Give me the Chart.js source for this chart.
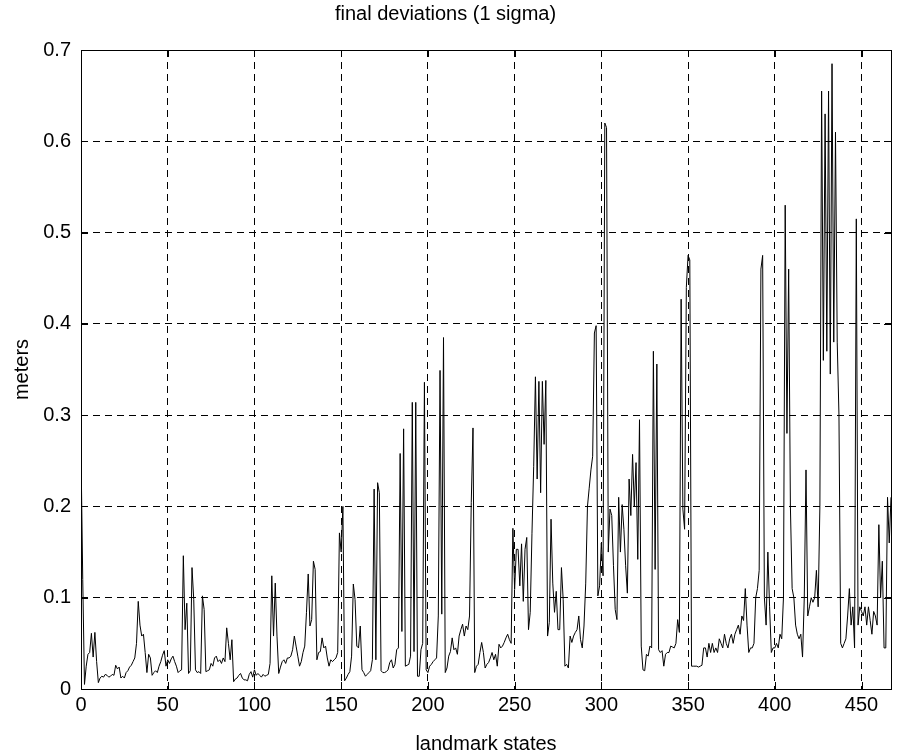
<!DOCTYPE html>
<html lang="en">
<head>
<meta charset="UTF-8">
<title>final deviations (1 sigma)</title>
<script src="https://cdn.jsdelivr.net/npm/chart.js"></script>
<style>
  html, body { margin: 0; padding: 0; background: #fff; }
  canvas { display: block; }
</style>
</head>
<body>
<canvas id="deviaciones" width="897" height="756"></canvas>
<script>
// landmark state standard deviations, 100 states per block
const dev000 = [0.26, 0.12, 0.005, 0.025, 0.038, 0.04, 0.061, 0.035, 0.062, 0.03,
  0.007, 0.012, 0.014, 0.013, 0.016, 0.015, 0.013, 0.014, 0.016, 0.015,
  0.026, 0.022, 0.024, 0.012, 0.014, 0.012, 0.018, 0.02, 0.024, 0.026,
  0.03, 0.034, 0.05, 0.096, 0.07, 0.058, 0.06, 0.04, 0.018, 0.038,
  0.034, 0.015, 0.018, 0.02, 0.018, 0.025, 0.03, 0.037, 0.042, 0.025,
  0.032, 0.028, 0.033, 0.036, 0.03, 0.025, 0.018, 0.02, 0.021, 0.146,
  0.065, 0.094, 0.017, 0.02, 0.133, 0.098, 0.021, 0.018, 0.019, 0.017,
  0.102, 0.087, 0.019, 0.02, 0.021, 0.028, 0.025, 0.034, 0.036, 0.03,
  0.032, 0.028, 0.034, 0.03, 0.067, 0.05, 0.032, 0.054, 0.008, 0.011,
  0.012, 0.015, 0.017, 0.012, 0.01, 0.01, 0.009, 0.016, 0.019, 0.013];
const dev100 = [0.021, 0.015, 0.017, 0.015, 0.013, 0.016, 0.014, 0.015, 0.016, 0.028,
  0.124, 0.058, 0.116, 0.058, 0.017, 0.024, 0.03, 0.032, 0.028, 0.034,
  0.034, 0.036, 0.043, 0.058, 0.047, 0.036, 0.025, 0.03, 0.04, 0.047,
  0.084, 0.126, 0.069, 0.076, 0.14, 0.131, 0.032, 0.04, 0.041, 0.056,
  0.045, 0.047, 0.034, 0.025, 0.032, 0.03, 0.032, 0.034, 0.04, 0.171,
  0.15, 0.2, 0.009, 0.012, 0.016, 0.019, 0.036, 0.115, 0.098, 0.047,
  0.045, 0.069, 0.021, 0.018, 0.014, 0.016, 0.018, 0.02, 0.032, 0.219,
  0.032, 0.226, 0.215, 0.02, 0.018, 0.018, 0.019, 0.021, 0.029, 0.032,
  0.023, 0.027, 0.043, 0.045, 0.258, 0.063, 0.285, 0.025, 0.026, 0.027,
  0.036, 0.314, 0.041, 0.314, 0.014, 0.014, 0.043, 0.05, 0.336, 0.021];
const dev200 = [0.018, 0.025, 0.027, 0.03, 0.032, 0.034, 0.08, 0.349, 0.082, 0.385,
  0.018, 0.023, 0.036, 0.041, 0.056, 0.043, 0.045, 0.038, 0.058, 0.065,
  0.071, 0.058, 0.069, 0.065, 0.08, 0.204, 0.286, 0.018, 0.025, 0.027,
  0.04, 0.051, 0.04, 0.023, 0.027, 0.029, 0.034, 0.04, 0.032, 0.038,
  0.025, 0.049, 0.045, 0.047, 0.051, 0.056, 0.06, 0.054, 0.05, 0.176,
  0.109, 0.153, 0.153, 0.113, 0.159, 0.096, 0.153, 0.166, 0.065, 0.084,
  0.17, 0.244, 0.342, 0.23, 0.337, 0.215, 0.337, 0.268, 0.338, 0.058,
  0.073, 0.186, 0.116, 0.084, 0.107, 0.065, 0.065, 0.133, 0.098, 0.025,
  0.027, 0.023, 0.058, 0.051, 0.058, 0.062, 0.065, 0.08, 0.054, 0.045,
  0.069, 0.116, 0.2, 0.22, 0.24, 0.255, 0.39, 0.398, 0.102, 0.113];
const dev300 = [0.16, 0.124, 0.62, 0.615, 0.15, 0.197, 0.19, 0.135, 0.087, 0.076,
  0.21, 0.15, 0.202, 0.175, 0.135, 0.105, 0.23, 0.19, 0.257, 0.2,
  0.248, 0.142, 0.295, 0.047, 0.021, 0.02, 0.038, 0.036, 0.047, 0.045,
  0.37, 0.131, 0.356, 0.043, 0.04, 0.042, 0.025, 0.038, 0.04, 0.04,
  0.047, 0.046, 0.045, 0.05, 0.076, 0.062, 0.427, 0.197, 0.175, 0.44,
  0.475, 0.47, 0.025, 0.025, 0.025, 0.025, 0.024, 0.025, 0.026, 0.045,
  0.045, 0.035, 0.05, 0.04, 0.05, 0.04, 0.045, 0.04, 0.055, 0.05,
  0.045, 0.06, 0.05, 0.045, 0.055, 0.06, 0.05, 0.06, 0.065, 0.07,
  0.06, 0.08, 0.075, 0.11, 0.07, 0.04, 0.045, 0.045, 0.05, 0.1,
  0.11, 0.13, 0.46, 0.475, 0.1, 0.07, 0.15, 0.09, 0.04, 0.045];
const dev400 = [0.045, 0.05, 0.045, 0.06, 0.055, 0.1, 0.53, 0.28, 0.46, 0.2,
  0.11, 0.1, 0.07, 0.06, 0.055, 0.06, 0.035, 0.1, 0.24, 0.08,
  0.09, 0.1, 0.095, 0.1, 0.13, 0.09, 0.2, 0.655, 0.36, 0.63,
  0.37, 0.655, 0.345, 0.685, 0.38, 0.61, 0.38, 0.3, 0.05, 0.045,
  0.05, 0.055, 0.08, 0.11, 0.07, 0.09, 0.045, 0.515, 0.07, 0.09,
  0.085, 0.08, 0.09, 0.07, 0.09, 0.075, 0.06, 0.085, 0.08, 0.07,
  0.18, 0.1, 0.14, 0.045, 0.045, 0.21, 0.16, 0.21];

const xTicks = [0, 50, 100, 150, 200, 250, 300, 350, 400, 450];
const yTicks = [0, 0.1, 0.2, 0.3, 0.4, 0.5, 0.6, 0.7];
const xMax = 467;

const desviaciones = [].concat(dev000, dev100, dev200, dev300, dev400);
const puntos = desviaciones.map((v, i) => ({ x: i, y: v }));

// marco negro y marcas hacia dentro, estilo matlab
const marcoPlugin = {
  id: 'marco',
  afterDraw(chart) {
    const { ctx, chartArea: a, scales } = chart;
    const len = 7;
    ctx.save();
    ctx.strokeStyle = '#000';
    ctx.lineWidth = 1;
    ctx.beginPath();
    xTicks.forEach(t => {
      const px = Math.round(scales.x.getPixelForValue(t)) + 0.5;
      ctx.moveTo(px, a.bottom); ctx.lineTo(px, a.bottom - len);
      ctx.moveTo(px, a.top); ctx.lineTo(px, a.top + len);
    });
    yTicks.forEach(t => {
      const py = Math.round(scales.y.getPixelForValue(t)) + 0.5;
      ctx.moveTo(a.left, py); ctx.lineTo(a.left + len, py);
      ctx.moveTo(a.right, py); ctx.lineTo(a.right - len, py);
    });
    ctx.stroke();
    ctx.strokeRect(Math.round(a.left) + 0.5, Math.round(a.top) + 0.5,
      Math.round(a.right - a.left), Math.round(a.bottom - a.top));
    ctx.restore();
  }
};

const fuente = { family: 'Liberation Sans, Arial, sans-serif', size: 20, weight: 'normal' };

const ctx = document.getElementById('deviaciones').getContext('2d');
const grafico = new Chart(ctx, {
  type: 'line',
  data: {
    datasets: [{
      data: puntos,
      borderColor: '#000',
      borderWidth: 1,
      pointRadius: 0,
      tension: 0,
      fill: false
    }]
  },
  options: {
    responsive: false,
    animation: false,
    layout: { padding: { top: 0, right: 6, bottom: 0, left: 0 } },
    plugins: {
      legend: { display: false },
      tooltip: { enabled: false },
      title: {
        display: true,
        text: 'final deviations (1 sigma)',
        color: '#000',
        font: fuente,
        padding: { top: 2, bottom: 24 }
      }
    },
    scales: {
      x: {
        type: 'linear',
        min: 0,
        max: xMax,
        afterBuildTicks: s => { s.ticks = xTicks.map(v => ({ value: v })); },
        afterFit: s => { s.height = 67; },
        grid: { color: '#000', lineWidth: 1, drawTicks: false },
        border: { display: false, dash: [7, 5] },
        ticks: { color: '#000', font: fuente, padding: 4, maxRotation: 0 },
        title: { display: true, text: 'landmark states', color: '#000', font: fuente, padding: { top: 0, bottom: 0 } }
      },
      y: {
        min: 0,
        max: 0.7,
        afterBuildTicks: s => { s.ticks = yTicks.map(v => ({ value: v })); },
        afterFit: s => { s.width = 81; },
        grid: { color: '#000', lineWidth: 1, drawTicks: false },
        border: { display: false, dash: [7, 5] },
        ticks: { color: '#000', font: fuente, padding: 10,
          callback: v => (v === 0 ? '0' : v.toFixed(1)) },
        title: { display: true, text: 'meters', color: '#000', font: fuente, padding: { top: 10, bottom: 0 } }
      }
    }
  },
  plugins: [marcoPlugin]
});
</script>
</body>
</html>
